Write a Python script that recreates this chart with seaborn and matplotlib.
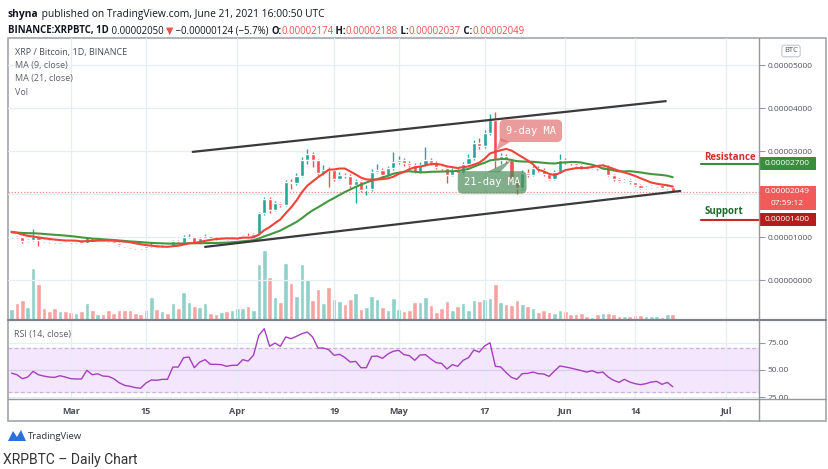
import numpy as np
import pandas as pd
import seaborn as sns
import matplotlib.pyplot as plt
from matplotlib.patches import Rectangle, Polygon
from matplotlib.lines import Line2D
import matplotlib.transforms as mtransforms

W, H = 829, 469

# daily XRP/BTC candles, prices in units of 1e-5 BTC
start_date = "2021-02-18"
first_open = 1.00
closes = [1.01, 0.99, 0.90, 0.93, 1.02, 0.93, 0.91, 0.89, 0.88, 0.91,
          0.90, 0.89, 0.90, 0.87, 0.99, 0.94, 0.95, 0.92, 0.90, 0.87,
          0.81, 0.78, 0.76, 0.75, 0.745, 0.78, 0.79, 0.78, 0.79, 0.775,
          0.90, 0.87, 0.99, 1.00, 0.87, 0.98, 1.02, 0.98, 0.96, 0.97,
          0.96, 0.97, 0.99, 1.03, 1.00, 1.07, 1.55, 1.89, 1.62, 1.79,
          1.74, 2.29, 2.25, 2.43, 2.80, 2.92, 2.78, 2.50, 2.56, 2.55,
          2.35, 2.45, 2.42, 2.20, 2.30, 2.10, 2.12, 2.52, 2.56, 2.45,
          2.60, 2.75, 2.80, 2.71, 2.68, 2.52, 2.68, 2.80, 2.72, 2.62,
          2.60, 2.45, 2.55, 2.50, 2.70, 2.83, 3.19, 3.12, 3.43, 3.71,
          2.80, 2.88, 2.78, 2.35, 2.15, 2.50, 2.45, 2.60, 2.56, 2.47,
          2.36, 2.52, 2.79, 2.74, 2.71, 2.67, 2.61, 2.60, 2.63, 2.60,
          2.65, 2.45, 2.34, 2.31, 2.32, 2.27, 2.21, 2.15, 2.16, 2.19,
          2.22, 2.14, 2.174, 2.049]
highs = [1.03, 1.03, 1.00, 0.95, 1.18, 1.05, 0.95, 0.93, 0.91, 0.93,
         0.92, 0.92, 0.92, 0.92, 1.01, 1.00, 0.97, 0.96, 0.94, 0.92,
         0.88, 0.82, 0.79, 0.77, 0.77, 0.80, 0.88, 0.81, 0.81, 0.80,
         0.92, 0.92, 1.04, 1.07, 1.01, 1.00, 1.08, 1.03, 0.99, 0.99,
         0.98, 0.99, 1.01, 1.05, 1.10, 1.10, 1.58, 1.93, 1.92, 1.83,
         1.82, 2.33, 2.35, 2.48, 2.87, 3.05, 2.97, 2.82, 2.68, 2.62,
         2.58, 2.52, 2.50, 2.46, 2.35, 2.33, 2.20, 2.58, 2.70, 2.60,
         2.64, 2.98, 2.88, 2.84, 2.76, 2.71, 2.75, 3.10, 2.84, 2.76,
         2.66, 2.63, 2.60, 2.60, 2.74, 2.92, 3.25, 3.30, 3.50, 3.86,
         3.90, 2.95, 2.94, 2.82, 2.40, 2.55, 2.58, 2.65, 2.64, 2.60,
         2.50, 2.56, 2.92, 2.83, 2.77, 2.74, 2.70, 2.65, 2.67, 2.66,
         2.70, 2.67, 2.47, 2.37, 2.36, 2.34, 2.29, 2.23, 2.19, 2.22,
         2.25, 2.24, 2.20, 2.188]
lows = [0.98, 0.97, 0.87, 0.89, 0.91, 0.78, 0.89, 0.87, 0.86, 0.87,
        0.88, 0.87, 0.87, 0.85, 0.86, 0.92, 0.92, 0.90, 0.88, 0.85,
        0.79, 0.76, 0.74, 0.73, 0.72, 0.73, 0.77, 0.76, 0.77, 0.76,
        0.76, 0.85, 0.86, 0.97, 0.85, 0.86, 0.97, 0.96, 0.94, 0.95,
        0.94, 0.95, 0.95, 0.97, 0.98, 0.99, 1.05, 1.52, 1.55, 1.60,
        1.70, 1.72, 2.12, 2.20, 2.40, 2.70, 2.62, 2.45, 2.45, 2.17,
        2.30, 2.32, 2.38, 2.15, 1.78, 2.05, 1.98, 2.08, 2.48, 2.40,
        2.42, 2.55, 2.70, 2.66, 2.62, 2.48, 2.50, 2.65, 2.68, 2.58,
        2.55, 2.25, 2.42, 2.46, 2.47, 2.68, 2.80, 3.05, 3.08, 3.38,
        2.60, 2.70, 2.72, 2.30, 1.99, 2.10, 2.40, 2.42, 2.52, 2.43,
        2.32, 2.33, 2.50, 2.70, 2.68, 2.64, 2.58, 2.57, 2.57, 2.56,
        2.57, 2.41, 2.31, 2.28, 2.28, 2.24, 2.18, 2.12, 2.12, 2.14,
        2.17, 2.11, 2.12, 2.037]
volumes = [33, 50, 59, 39, 155, 108, 36, 27, 36, 27,
           27, 24, 21, 27, 50, 30, 19, 17, 29, 21,
           31, 29, 29, 21, 19, 31, 68, 33, 27, 20,
           51, 36, 84, 54, 42, 40, 51, 20, 17, 24,
           27, 30, 36, 36, 42, 31, 168, 210, 129, 69,
           54, 171, 112, 72, 168, 122, 61, 94, 50, 99,
           62, 57, 47, 63, 80, 33, 39, 72, 63, 39,
           30, 66, 33, 26, 30, 54, 54, 70, 45, 24,
           36, 57, 30, 41, 51, 29, 61, 57, 63, 66,
           108, 54, 48, 45, 60, 48, 42, 36, 24, 29,
           24, 21, 30, 27, 17, 17, 20, 12, 9, 17,
           20, 20, 17, 12, 12, 12, 15, 15, 12, 12,
           12, 9, 17, 17]
rsi_values = [47, 45.5, 41.9, 43.4, 48.6, 45.5, 44.3, 43.4, 43.1, 44.6,
              43.4, 41.9, 41.6, 41.6, 49.6, 45.5, 46.4, 44.3, 44, 41.9,
              38.2, 35.8, 34.9, 33.7, 33.1, 37.9, 40.7, 40.4, 41.3, 41.3,
              52.6, 52.6, 61.2, 61.8, 52, 57.2, 59.4, 55.1, 55.1, 54.8,
              53.3, 54.2, 54.2, 59.4, 58.1, 63.4, 81.8, 87.9, 71.7, 74.7,
              71.7, 80.3, 78.7, 80.9, 83.3, 84.8, 80.3, 70.1, 70.1, 68.6,
              63.4, 64.3, 61.4, 57.2, 57.8, 52, 52, 62.4, 62.7, 60.6,
              64.6, 67.1, 68, 64, 63.1, 58.8, 63.7, 64, 60, 56.6,
              56, 50.8, 54.8, 53.3, 58.8, 61.2, 68.3, 66.4, 72, 75,
              53.3, 52.7, 47.5, 43.1, 41.3, 46.5, 46.8, 48, 46.5, 46.2,
              44, 49, 53.6, 52.7, 51.7, 50.5, 49.3, 48, 49.3, 47.2,
              48, 43.4, 40.4, 38.5, 41.3, 38.8, 37.3, 36.4, 37.3, 38.8,
              39.4, 36.7, 38.5, 34.5]
# closes before the visible window, only needed to start the moving averages
prior_closes = [1.10, 1.08, 1.04, 1.05, 1.07, 1.10, 1.12, 1.10, 1.06, 1.12,
                1.14, 1.18, 1.22, 1.27, 1.20, 1.15, 1.12, 1.08, 1.04, 1.02]

tick_dates = ["2021-03-01", "2021-03-15", "2021-04-01", "2021-04-19", "2021-05-01",
              "2021-05-17", "2021-06-01", "2021-06-14", "2021-07-01"]
tick_labels = ["Mar", "15", "Apr", "19", "May", "17", "Jun", "14", "Jul"]
price_ticks = [0, 1, 2, 3, 4, 5]
rsi_ticks = [25, 50, 75]

resistance = 2.700
support = 1.400
last_price = 2.049
# channel lines: (day offset, price)
upper_channel = ([33.7, 121.7], [2.98, 4.16])
lower_channel = ([36.0, 124.4], [0.77, 2.07])

UP, DOWN = "#26a69a", "#ef5350"

# ---- data frame
df = pd.DataFrame({"date": pd.date_range(start_date, periods=len(closes)),
                   "close": closes, "high": highs, "low": lows,
                   "volume": volumes, "rsi": rsi_values})
df["day"] = np.arange(len(df))
df["open"] = [first_open] + closes[:-1]
all_close = pd.Series(prior_closes + closes)
df["ma9"] = all_close.rolling(9).mean().iloc[len(prior_closes):].values
df["ma21"] = all_close.rolling(21).mean().iloc[len(prior_closes):].values
df["up"] = df["close"] >= df["open"]
tick_pos = (pd.to_datetime(tick_dates) - pd.Timestamp(start_date)).days.values

sns.set_theme(style="white")
plt.rcParams["font.family"] = ["Open Sans", "DejaVu Sans"]


def fx(x):
    return x / W


def fy(y):
    return 1 - y / H


def rect(x0, y0, x1, y1):
    return [fx(x0), fy(y1), (x1 - x0) / W, (y1 - y0) / H]


fig = plt.figure(figsize=(W / 100, H / 100), dpi=100)
fig.patch.set_facecolor("white")

ax = fig.add_axes(rect(8, 38, 759, 320))
ax_rsi = fig.add_axes(rect(8, 320, 759, 399), sharex=ax)
vol = ax.twinx()

grid_c = "#e6edf3"

# ---- volume
vol.bar(df["day"], df["volume"], width=0.86,
        color=np.where(df["up"], "#8fd1c9", "#f7a3a1"))
vol.set_ylim(0, 846)
vol.axis("off")
ax.set_zorder(vol.get_zorder() + 1)
ax.patch.set_visible(False)

# ---- candles
colors = np.where(df["up"], UP, DOWN)
body_lo = np.minimum(df["open"], df["close"])
body_h = np.maximum(np.abs(df["close"] - df["open"]), 0.02)
ax.vlines(df["day"], df["low"], df["high"], color=colors, lw=1.0, zorder=2)
ax.bar(df["day"], body_h, bottom=body_lo, width=0.76, color=colors, zorder=2)

# ---- moving averages
sns.lineplot(x=df["day"], y=df["ma21"], ax=ax, color="#43983f", lw=1.5, zorder=3)
sns.lineplot(x=df["day"], y=df["ma9"], ax=ax, color="#f0433a", lw=1.5, zorder=3)

# ---- channel
ax.plot(*upper_channel, color="#3a3a3a", lw=1.6, zorder=4, solid_capstyle="round")
ax.plot(*lower_channel, color="#3a3a3a", lw=1.6, zorder=4, solid_capstyle="round")

ax.axhline(last_price, color="#f08a88", lw=0.9, ls=(0, (1, 1.5)), zorder=1)

# ---- MA call-outs
ax.text(96.6, 3.47, "9-day MA", ha="center", va="center", color="white",
        fontsize=7.5, family="DejaVu Sans Mono", zorder=6,
        bbox=dict(boxstyle="round,pad=0.6,rounding_size=0.5", fc="#e06666", ec="none", alpha=0.65))
ax.add_patch(Polygon([[90.25, 3.02], [90.9, 3.30], [92.7, 3.21]], closed=True,
                     fc="#e06666", ec="none", alpha=0.65, zorder=6))
ax.text(89.4, 2.27, "21-day MA", ha="center", va="center", color="white",
        fontsize=7.5, family="DejaVu Sans Mono", zorder=6,
        bbox=dict(boxstyle="round,pad=0.6,rounding_size=0.5", fc="#4c8c5a", ec="none", alpha=0.7))
ax.add_patch(Polygon([[93.0, 2.79], [88.4, 2.51], [90.9, 2.51]], closed=True,
                     fc="#4c8c5a", ec="none", alpha=0.7, zorder=6))

# ---- resistance / support
blend = mtransforms.blended_transform_factory(ax.transAxes, ax.transData)
ax.plot([0.923, 1.0], [resistance, resistance], transform=blend, color="#388e3c", lw=1.5, clip_on=False, zorder=5)
ax.plot([0.923, 1.0], [support, support], transform=blend, color="#c62828", lw=1.5, clip_on=False, zorder=5)
ax.text(0.927, resistance + 0.14, "Resistance", transform=blend, color="#d32f2f",
        fontsize=7, fontweight="bold", va="center", ha="left")
ax.text(0.927, support + 0.19, "Support", transform=blend, color="#1b6b26",
        fontsize=7, fontweight="bold", va="center", ha="left")

# price label boxes on the right scale
box_w = 57 / 751
for p, lo, hi, fc in [(resistance, 0.15, 0.15, "#388e3c"),
                      (last_price, 0.42, 0.14, "#f05a58"),
                      (support, 0.15, 0.15, "#b71c1c")]:
    ax.add_patch(Rectangle((1.0, p - lo), box_w, lo + hi, transform=blend,
                           fc=fc, ec="none", clip_on=False, zorder=7))
ax.text(1.0 + box_w / 2, resistance, f"{resistance * 1e-5:.8f}", transform=blend, color="white",
        fontsize=6, ha="center", va="center", zorder=8)
ax.text(1.0 + box_w / 2, last_price, f"{last_price * 1e-5:.8f}", transform=blend, color="white",
        fontsize=6, ha="center", va="center", zorder=8)
ax.text(1.0 + box_w / 2, last_price - 0.26, "07:59:12", transform=blend, color="white",
        fontsize=6, ha="center", va="center", zorder=8)
ax.text(1.0 + box_w / 2, support, f"{support * 1e-5:.8f}", transform=blend, color="white",
        fontsize=6, ha="center", va="center", zorder=8)

# ---- main axis formatting
ax.set_xlim(-0.67, 139.05)
ax.set_ylim(-0.93, 5.628)
ax.set_xlabel("")
ax.set_ylabel("")
ax.set_xticks(tick_pos)
ax.tick_params(axis="x", length=0, labelbottom=False)
ax.yaxis.tick_right()
ax.set_yticks(price_ticks)
ax.set_yticklabels([f"{v * 1e-5:.8f}" if v != 2 else "" for v in price_ticks])
ax.tick_params(axis="y", right=True, length=4, width=0.8, color="#9598a1", pad=2,
               labelsize=6, labelcolor="#50535e")
ax.grid(True, color=grid_c, lw=0.9)
for s in ax.spines.values():
    s.set_visible(False)

# ---- RSI pane
ax_rsi.axhspan(30, 70, color="#f4e6fc", zorder=0)
ax_rsi.axhline(70, color="#c9b5d3", lw=0.9, ls=(0, (3, 2)), zorder=1)
ax_rsi.axhline(30, color="#c9b5d3", lw=0.9, ls=(0, (3, 2)), zorder=1)
ax_rsi.axhline(50, color="#d9cdeb", lw=0.9, zorder=1)
sns.lineplot(x=df["day"], y=df["rsi"], ax=ax_rsi, color="#a53fbf", lw=1.0, zorder=3)
ax_rsi.set_ylim(23.2, 95.9)
ax_rsi.set_xlabel("")
ax_rsi.set_ylabel("")
ax_rsi.yaxis.tick_right()
ax_rsi.set_yticks(rsi_ticks)
ax_rsi.set_yticklabels([f"{v:.2f}" for v in rsi_ticks])
ax_rsi.tick_params(axis="y", right=True, length=4, width=0.8, color="#9598a1", pad=2,
                   labelsize=6, labelcolor="#50535e")
ax_rsi.set_xticks(tick_pos)
ax_rsi.set_xticklabels(tick_labels)
ax_rsi.tick_params(axis="x", length=0, pad=5.5, labelsize=6.5, labelcolor="#4c4f57")
for lab in ax_rsi.get_xticklabels():
    lab.set_fontweight("bold")
ax_rsi.grid(True, color=grid_c, lw=0.9)
for s in ax_rsi.spines.values():
    s.set_visible(False)
ax_rsi.set_xlim(-0.67, 139.05)

# ---- frame lines
fig.add_artist(Rectangle((fx(8), fy(421)), (826 - 8) / W, (421 - 38) / H,
                         transform=fig.transFigure, fill=False, ec="#a3a6af", lw=1.2))
fig.add_artist(Line2D([fx(759), fx(759)], [fy(38), fy(421)], color="#9598a1", lw=1))
fig.add_artist(Line2D([fx(8), fx(826)], [fy(320), fy(320)], color="#7f828b", lw=1.6))
fig.add_artist(Line2D([fx(8), fx(826)], [fy(399), fy(399)], color="#9598a1", lw=1))

# ---- texts
fig.text(fx(791), fy(51), "BTC", fontsize=5.5, color="#50535e", ha="center", va="center",
         bbox=dict(boxstyle="round,pad=0.3", fc="white", ec="#c3c6cf", lw=0.8))

renderer = fig.canvas.get_renderer()


def put_row(x_px, y_px, pieces, size):
    x = x_px
    for s, color, weight in pieces:
        t = fig.text(fx(x), fy(y_px), s, fontsize=size, color=color,
                     fontweight=weight, ha="left", va="center")
        x += t.get_window_extent(renderer).width


dark, red = "#131722", "#ef5350"
put_row(8, 15, [("shyna", dark, "bold"),
                (" published on TradingView.com, June 21, 2021 16:00:50 UTC", dark, "normal")], 7.4)
put_row(8, 31, [("BINANCE:XRPBTC, 1D", dark, "bold"),
                (" 0.00002050 ", dark, "normal"),
                ("▼", red, "normal"),
                (" −0.00000124 (−5.7%) ", dark, "normal"),
                ("O:", dark, "bold"), ("0.00002174", red, "normal"),
                (" H:", dark, "bold"), ("0.00002188", red, "normal"),
                (" L:", dark, "bold"), ("0.00002037", red, "normal"),
                (" C:", dark, "bold"), ("0.00002049", red, "normal")], 6.9)

legend_lines = ["XRP / Bitcoin, 1D, BINANCE", "MA (9, close)", "MA (21, close)", "Vol"]
for k, (txt, y) in enumerate(zip(legend_lines, [52, 65, 79, 92])):
    fig.text(fx(15), fy(y), txt, fontsize=6.5, color="#4a4d57" if k == 0 else "#5d606b",
             ha="left", va="center")
fig.text(fx(14), fy(334), "RSI (14, close)", fontsize=6.5, color="#5d606b", ha="left", va="center")

# TradingView mark
fig.add_artist(Polygon([[fx(8), fy(441)], [fx(13), fy(431)], [fx(17), fy(437)],
                        [fx(21), fy(430)], [fx(26), fy(441)]], closed=True,
                       transform=fig.transFigure, fc="#2a6fdb", ec="none"))
fig.text(fx(28), fy(436), "TradingView", fontsize=6.8, color="#2e3038", ha="left", va="center")
fig.text(fx(3), fy(460), "XRPBTC – Daily Chart", fontsize=10, color="#333333",
         family=["Roboto", "DejaVu Sans"], ha="left", va="center")

fig.savefig("out.png", dpi=100)
